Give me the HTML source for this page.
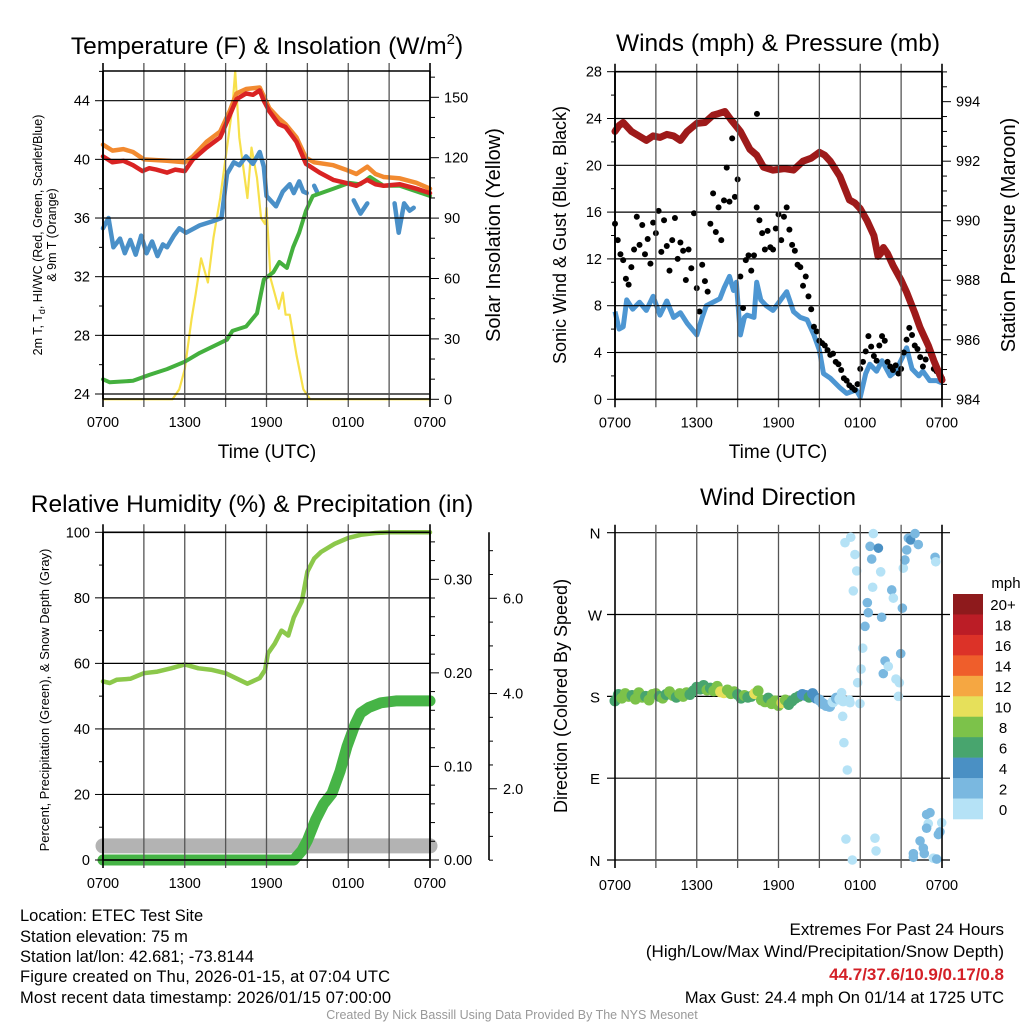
<!DOCTYPE html>
<html><head><meta charset="utf-8"><style>
body{margin:0;background:#fff;}
svg{display:block;font-family:"Liberation Sans",sans-serif;}
</style></head><body>
<svg id="c" width="1024" height="1024" viewBox="0 0 1024 1024"></svg>
<script>
// ---------- DATA ----------
const timeTicks = ["0700","1300","1900","0100","0700"];
// Temperature panel
const redT = [0,0.7,1.5,2.2,2.9,3.4,3.9,4.7,5.3,6.0,6.6,7.6,8.6,9.3,9.8,10.5,11.0,11.5,11.8,12.2,12.9,13.4,14.2,14.9,15.9,16.9,17.8,18.6,19.4,20.0,20.6,21.8,23.0,24];
const redV = [40.2,39.8,39.9,39.6,39.2,39.4,39.3,39.1,39.3,39.2,40,40.8,41.5,43,44.1,44.5,44.4,44.7,44,43.3,42.4,42.2,41.2,39.7,39.1,38.6,38.4,38.2,38.6,38.3,38.2,38.3,38.0,37.7];
const orgT = [0,0.7,1.5,2.2,3,4.7,6,6.6,7.6,8.6,9.3,9.8,10.5,11.5,11.8,12.2,12.9,13.4,14.2,14.9,15.5,16.9,17.8,18.6,19.4,20.0,20.6,21.8,23,24];
const orgV = [41,40.6,40.7,40.5,40,39.9,39.8,40.2,41.2,41.9,43.3,44.5,44.8,44.9,44.3,43.5,42.8,42.4,41.5,40.1,39.8,39.6,39.3,39.0,39.5,39.0,38.8,38.7,38.4,38.0];
const grnT = [0,0.5,2.2,3.4,4.7,6,7.1,9.1,9.5,10.5,11.3,11.8,12.5,12.95,13.5,13.95,14.4,14.9,15.4,16.9,18.1,18.9,19.6,20.6,21.8,24];
const grnV = [25,24.8,24.9,25.3,25.7,26.2,26.8,27.7,28.3,28.6,29.5,31.8,32.3,33,32.6,34,35,36.5,37.5,38,38.4,38.3,38.8,38.2,38.2,37.5];
const bluT = [0,0.4,0.76,1.25,1.6,2.0,2.4,2.8,3.2,3.6,4.0,4.4,4.7,5.2,5.6,6.1,7.1,8.1,8.7,9.1,9.6,10.0,10.5,11.0,11.5,11.8,12.0,12.7,13.2,13.7,14.0,14.4,14.7,14.95,null,15.5,15.7,null,18.4,18.9,19.4,null,21.4,21.7,22.1,22.5,22.8];
const bluV = [35.3,36,34,34.6,33.6,34.5,33.5,34.8,33.6,34.4,33.4,34.2,34,34.8,35.3,35.0,35.5,35.8,36,39,39.8,39.6,40.2,39.7,40.5,39.5,37.5,36.8,37.8,38.3,37.7,38.5,37.8,37.7,null,38.2,37.8,null,37.2,36.3,37,null,37,35,37,36.5,36.7];
const solT = [0,5.1,5.6,6.0,6.5,6.8,7.2,7.7,8.1,8.6,9.1,9.5,9.7,10.0,10.4,10.6,10.9,11.3,11.6,11.9,12.0,12.3,12.9,13.2,13.4,13.7,14.2,14.7,15.2,24];
const solV = [0,0,5,15,40,52,70,58,80,100,125,145,163,130,110,100,125,110,90,87,95,60,45,53,42,42,22,5,0,0];
// Wind panel
const presT = [0,0.3,0.6,1.2,2.3,2.8,3.3,3.8,4.3,4.8,5.3,6.0,6.6,7.2,7.6,8.07,8.5,9.2,9.9,10.4,10.9,11.6,12.4,13.1,13.8,14.4,15.0,15.4,15.8,16.5,17.2,17.6,18.0,18.5,19.0,19.3,19.5,19.7,20.0,20.4,21.0,21.4,22.0,22.4,23.0,23.4,24];
const presV = [993.0,993.2,993.3,993.0,992.7,992.85,992.8,992.9,992.85,992.7,993.0,993.27,993.3,993.55,993.6,993.67,993.4,993.0,992.4,992.2,991.8,991.7,991.75,991.7,992.0,992.1,992.3,992.2,992.0,991.5,990.7,990.6,990.4,990.0,989.5,988.8,988.9,989.1,988.9,988.5,988.0,987.6,986.9,986.4,985.8,985.3,984.65];
const windT = [0,0.3,0.6,0.86,1.3,1.8,2.3,2.8,3.3,3.8,4.3,4.8,5.3,6.0,6.4,6.7,7.2,7.7,8.0,8.4,8.7,8.9,9.2,9.5,9.7,10.2,10.4,10.7,11.1,11.6,12.1,12.6,13.1,13.6,14.1,14.6,15.0,15.3,15.8,16.5,17.0,17.7,18.0,18.4,18.7,19.2,19.6,20.2,20.6,21.1,21.4,21.8,22.3,22.6,23.1,23.6,24];
const windV = [7.5,6,6.2,8.5,7.7,8.3,7.6,8.8,7.2,8.4,7,7.4,6.5,5.5,7,8,8.3,8.6,9.5,10.5,9.3,10,5.5,7,7.2,7,10,8.5,8,7.6,8.4,9.2,7.5,7,6.8,5.5,4.2,2.2,1.8,1,0.5,0.8,0.2,2.2,3,2.4,3.3,2,2.4,3.6,4.4,2.6,2,2.4,1.6,1.6,1.4];
const gustV = [15,13.6,12.4,11.9,10.3,9.8,
11.3,12.8,15.6,13.2,14.9, 12.4,13.7,11.6,15.1,14.2, 16.1,12.6,15.3,13.1,11.0, 13.6,15.5,12.0,13.4,12.7,
10.2,12.8,11.2,15.9,9.5, 7.5,11.5,10.1,9.2,15.0, 17.6,14.3,16.4,13.6,17.0, 19.8,16.9,22.3,17.3,18.8,
10.5,7.8,11.9,12.3,11.0, 12.3,16.4,15.3,14.2,12.8, 14.4,13.0,12.8,14.6,15.8, 13.6,15.6,16.4,14.5,13.2,
12.7,11.5,11.3,9.7,10.5, 8.8,7.7,6.2,5.8,5.0, 4.8,4.6,4.2,3.8,3.9, 3.2,3.0,2.5,1.8,1.6,
1.2,1.0,0.8,1.3,2.6, 3.2,4.1,5.4,4.5,3.7, 3.3,4.6,5.4,5.0,3.2, 2.8,2.5,2.9,2.2,2.6,
4.0,5.1,6.1,5.5,4.6, 4.3,3.6,2.8,3.4,4.2, 3.8,2.6,2.4,2.1,1.8];
const gustStepHours = 0.2;
const maxGustTime = 10.42, maxGustValue = 24.4;
// RH / precip panel
const rhT = [0,0.5,1,2,3,4,5,6,7,8,9,10,10.6,11.5,11.9,12.1,12.6,13.1,13.6,14.0,14.6,15.0,15.5,16,17,18,19,20,21,24];
const rhV = [54.5,54,55,55.3,57,57.5,58.5,59.7,58.5,58,57,55,53.8,55.5,58,63,66,70,68.5,74,79,88,92,94,96.5,98.3,99.3,99.8,100,100];
const pcpT = [0,14.0,14.6,15.0,15.6,16.2,16.8,17.4,17.9,18.5,18.9,19.5,20.4,21.5,24];
const pcpV = [0,0,0.01,0.021,0.043,0.06,0.071,0.095,0.121,0.145,0.157,0.163,0.168,0.17,0.17];
const snowT = [0,24];
const snowV = [0.8,0.8];
// Wind direction panel
const dirStepHours = 0.25;
const dirV = [175,182,178,183,180,181,177,184,179,180,176,182,
183,180,178,182,185,181,179,183,180,184,182,186,
190,188,192,187,189,186,191,185,184,187,183,185,
182,178,181,179,180,183,186,176,174,178,172,175,
170,173,176,171,175,178,180,182,181,179,183,178,
176,172,170,169,174,178,177,175];
const dirS = [7.5,6.5,8.5,8.2,8.6,7.8,8.4,9,8.2,7.6,8.8,8.4,
8.3,6.8,8.6,7.5,8.9,8.4,7.2,8.6,8.8,8.1,6.5,7,
6.2,6.8,7,8.2,7.5,8.8,9.2,10.5,10.8,9.6,9.2,8.5,
6.5,7,8.6,6.8,7.4,10.4,9.3,8.5,8.8,7.6,8.3,9.1,
8.6,10.5,9.2,7.5,6.8,7.2,6.5,4.8,5.5,6.2,5,4.5,
3.5,3,2.5,3.2,1.5,2.5,1.8,1.2];
const lateT = [16.88,17.30,17.61,17.74,17.49,16.63,16.71,16.80,17.05,16.95,17.42,17.25,17.20,17.81,18.06,18.18,18.35,18.52,18.59,18.72,18.84,18.96,18.91,19.33,19.50,19.57,19.69,19.82,20.06,20.31,20.43,20.62,20.87,20.80,20.97,21.09,21.16,21.28,21.41,21.53,21.70,22.02,22.26,19.08,19.16,21.90,21.90,22.39,22.63,22.70,22.87,23.12,22.99,22.87,23.36,23.61,23.73,23.85,23.98,23.49,23.54,17.98];
const lateD = [349,355,336,318,296,184,158,129,99,23,0,173,176,195,210,233,257,283,272,345,331,359,300,343,317,267,205,219,213,297,288,199,195,180,227,277,321,330,341,354,352,359,347,24,10,7,3,21,13,7,50,52,40,35,2,1,28,31,41,333,328,172];
const lateS = [1,1,1,1,1,1,1,1,1,1,1,1,1,1,1,1,3,3,3,3,3,1,1,5,1,3,3,3,1,3,1,1,1,1,3,3,1,3,3,3,5,3,3,1,1,3,3,3,3,3,3,3,1,3,1,3,3,3,1,3,1,1];
const cbLabels = ["20+","18","16","14","12","10","8","6","4","2","0"];
const cbColors = ["#8e1a1c","#bb1d26","#dc3228","#ef5e2b","#f5a742","#e6e05a","#7cc24a","#48a56e","#4a90c4","#7ab8e0","#b5e2f6"];

// ---------- DRAW ----------
const svg = document.getElementById('c');
const NS = 'http://www.w3.org/2000/svg';
function el(tag, attrs, parent, text){
  const e = document.createElementNS(NS, tag);
  for (const k in attrs) e.setAttribute(k, attrs[k]);
  if (text !== undefined) e.textContent = text;
  (parent || svg).appendChild(e);
  return e;
}
function lin(d0,d1,r0,r1){ return v => r0 + (v-d0)/(d1-d0)*(r1-r0); }
function pathFrom(ts, vs, sx, sy){
  let d = '', pen = false;
  for (let i=0;i<ts.length;i++){
    if (ts[i]===null || vs[i]===null){ pen=false; continue; }
    d += (pen?'L':'M') + sx(ts[i]).toFixed(1) + ',' + sy(vs[i]).toFixed(1);
    pen = true;
  }
  return d;
}
function text(x,y,s,size,opts,parent){
  opts = opts||{};
  const t = el('text', Object.assign({x:x,y:y,'font-size':size,'text-anchor':opts.anchor||'middle',fill:opts.fill||'#000'}, opts.extra||{}), parent, s);
  return t;
}
function panelFrame(g, X0, X1, Y0, Y1, sx){
  for (let h=0; h<=24; h+=3){
    const x = sx(h);
    const v = el('line',{x1:x,x2:x,y1:Y0-8,y2:Y1+8,stroke:(h%24===0)?'#000':'#555','stroke-width':(h%24===0)?1.6:1.3},g);
    
    
  }
  for (let i=0;i<timeTicks.length;i++){
    const t = text(sx(i*6), Y1+28, timeTicks[i], 14.5, {}, g);
    
    
  }
  el('line',{x1:X0,x2:X1,y1:Y0,y2:Y0,stroke:'#000','stroke-width':1.6},g);
  el('line',{x1:X0,x2:X1,y1:Y1,y2:Y1,stroke:'#000','stroke-width':1.6},g);
}
function leftAxis(g, X0, X1, sy, vmin, vmax, major, minor){
  for (let v=vmin; v<=vmax+1e-9; v+=minor){
    const isMaj = Math.abs(v/major - Math.round(v/major))<1e-6;
    const y = sy(v);
    el('line',{x1:X0-(isMaj?8:4),x2:X0,y1:y,y2:y,stroke:'#000','stroke-width':1},g);
  }
}
function rightAxis(g, X, sy, vmin, vmax, major, minor, fmt, name){
  for (let v=vmin; v<=vmax+1e-9; v+=minor){
    const isMaj = Math.abs(v/major - Math.round(v/major))<1e-6;
    const y = sy(v);
    el('line',{x1:X,x2:X+(isMaj?9:5),y1:y,y2:y,stroke:'#000','stroke-width':1},g);
    if (isMaj){
      const t = text(X+14, y+5, fmt(v), 14.5, {anchor:'start'}, g);
      
      
    }
  }
}

// ===== Panel 1: Temperature =====
(function(){
  const g = el('g',{});
  
  
  const X0=103,X1=430,Y0=71,Y1=399;
  const sx = lin(0,24,X0,X1);
  const sy = lin(24,44,394,100.7);
  const ss = lin(0,150,399.3,97.3);
  const tl = text(267,54,'Temperature (F) & Insolation (W/m',24.5,{},g);
  el('tspan',{'font-size':15,dy:-10},tl,'2');
  el('tspan',{dy:10},tl,')');
  
  
  const series = [
    [solT,solV,ss,'#f7e04b',2.2,'solar-insolation-line'],
    [bluT,bluV,sy,'#4a90c8',4.5,'heat-index-windchill-line'],
    [grnT,grnV,sy,'#44b03e',4,'dewpoint-line'],
    [orgT,orgV,sy,'#f28a30',4.5,'temp-9m-line'],
    [redT,redV,sy,'#d92323',4.5,'temp-2m-line']];
  for (const s of series){
    const p = el('path',{d:pathFrom(s[0],s[1],sx,s[2]),fill:'none',stroke:s[3],'stroke-width':s[4],'stroke-linejoin':'round','stroke-linecap':'round'},g);
    
    
  }
  for (let v=24; v<=44; v+=4){
    el('line',{x1:X0,x2:X1,y1:sy(v),y2:sy(v),stroke:'#000','stroke-width':1.2},g);
    const t = text(X0-13, sy(v)+5, String(v), 14.5, {anchor:'end'}, g);
    
    
  }
  leftAxis(g,X0,X1,sy,24,46,4,2);
  panelFrame(g,X0,X1,Y0,Y1,sx);
  el('line',{x1:X0,x2:X0,y1:Y0,y2:Y1,stroke:'#000','stroke-width':1.8},g);
  el('line',{x1:X1,x2:X1,y1:Y0,y2:Y1,stroke:'#000','stroke-width':1.6},g);
  rightAxis(g,X1,ss,0,160,30,10,v=>String(v),'solar-y-tick');
  const xl = text(267,458,'Time (UTC)',19,{},g);
  
  
  const yl = el('text',{transform:'translate(42,235) rotate(-90)','font-size':12.5,'text-anchor':'middle'},g);
  
  
  el('tspan',{x:0,dy:0},yl,'2m T, T');
  el('tspan',{'font-size':9,dy:3},yl,'d');
  el('tspan',{dy:-3},yl,', HI/WC (Red, Green, Scarlet/Blue)');
  el('tspan',{x:0,dy:14},yl,'& 9m T (Orange)');
  const yr = text(0,0,'Solar Insolation (Yellow)',20,{extra:{transform:'translate(500,235) rotate(-90)'}},g);
  
  
})();

// ===== Panel 2: Winds =====
(function(){
  const g = el('g',{});
  
  
  const X0=615,X1=942,Y0=71.7,Y1=399.3;
  const sx = lin(0,24,X0,X1);
  const sy = lin(0,28,399.3,71.7);
  const sp = lin(984,995,399.3,71.9);
  const tl = text(778,51,'Winds (mph) & Pressure (mb)',24.5,{},g);
  
  
  const wl = el('path',{d:pathFrom(windT,windV,sx,sy),fill:'none',stroke:'#4d96d2','stroke-width':5,'stroke-linejoin':'round'},g);
  
  
  for (let i=0;i<gustV.length;i++){
    const c = el('circle',{cx:sx(i*gustStepHours),cy:sy(gustV[i]),r:3,fill:'#000'},g);
    
    
  }
  const mg = el('circle',{cx:sx(maxGustTime),cy:sy(maxGustValue),r:3,fill:'#000'},g);
  
  
  const pl = el('path',{d:pathFrom(presT,presV,sx,sp),fill:'none',stroke:'#9e1a1a','stroke-width':7,'stroke-linejoin':'round','stroke-linecap':'round'},g);
  
  
  for (let v=0; v<=28; v+=4){
    el('line',{x1:X0,x2:X1,y1:sy(v),y2:sy(v),stroke:'#000','stroke-width':1.2},g);
    const t = text(X0-13, sy(v)+5, String(v), 14.5, {anchor:'end'}, g);
    
    
  }
  leftAxis(g,X0,X1,sy,0,28,4,2);
  panelFrame(g,X0,X1,Y0,Y1,sx);
  el('line',{x1:X0,x2:X0,y1:Y0,y2:Y1,stroke:'#000','stroke-width':1.8},g);
  el('line',{x1:X1,x2:X1,y1:Y0,y2:Y1,stroke:'#000','stroke-width':1.6},g);
  rightAxis(g,X1,sp,984,995,2,0.5,v=>String(v),'pressure-y-tick');
  const xl = text(778,458,'Time (UTC)',19,{},g);
  
  
  const yl = text(0,0,'Sonic Wind & Gust (Blue, Black)',18,{extra:{transform:'translate(566,235) rotate(-90)'}},g);
  
  
  const yr = text(0,0,'Station Pressure (Maroon)',20,{extra:{transform:'translate(1015,235) rotate(-90)'}},g);
  
  
})();

// ===== Panel 3: RH & precip =====
(function(){
  const g = el('g',{});
  
  
  const X0=103,X1=430,Y0=532.3,Y1=860;
  const sx = lin(0,24,X0,X1);
  const sy = lin(0,100,860,532.3);
  const sr = lin(0,0.3,860,579.3);
  const sd = lin(0,6,884,598.3);
  const tl = text(252,512,'Relative Humidity (%) & Precipitation (in)',24.5,{},g);
  
  
  const sn = el('path',{d:pathFrom(snowT,snowV,sx,sd),fill:'none',stroke:'#b3b3b3','stroke-width':15,'stroke-linecap':'round'},g);
  
  
  const pc = el('path',{d:pathFrom(pcpT,pcpV,sx,sr),fill:'none',stroke:'#46b446','stroke-width':11,'stroke-linejoin':'round','stroke-linecap':'round'},g);
  
  
  const rh = el('path',{d:pathFrom(rhT,rhV,sx,sy),fill:'none',stroke:'#8cc84b','stroke-width':4.5,'stroke-linejoin':'round','stroke-linecap':'round'},g);
  
  
  for (let v=0; v<=100; v+=20){
    el('line',{x1:X0,x2:X1,y1:sy(v),y2:sy(v),stroke:'#000','stroke-width':1.2},g);
    const t = text(X0-13, sy(v)+5, String(v), 14.5, {anchor:'end'}, g);
    
    
  }
  leftAxis(g,X0,X1,sy,0,100,20,10);
  panelFrame(g,X0,X1,Y0,Y1,sx);
  el('line',{x1:X0,x2:X0,y1:Y0,y2:Y1,stroke:'#000','stroke-width':1.8},g);
  el('line',{x1:X1,x2:X1,y1:Y0,y2:Y1,stroke:'#000','stroke-width':1.6},g);
  rightAxis(g,X1,sr,0,0.34,0.1,0.02,v=>v.toFixed(2),'precip-y-tick');
  el('line',{x1:489,x2:489,y1:Y0,y2:Y1,stroke:'#000','stroke-width':1.6},g);
  for (let v=0.5; v<=7.3; v+=0.5){
    const isMaj = Math.abs(v/2-Math.round(v/2))<1e-6;
    el('line',{x1:489,x2:489+(isMaj?8:4),y1:sd(v),y2:sd(v),stroke:'#000','stroke-width':1},g);
    if (isMaj){
      const t = text(503, sd(v)+5, v.toFixed(1), 14.5, {anchor:'start'}, g);
      
      
    }
  }
  const yl = text(0,0,'Percent, Precipitation (Green), & Snow Depth (Gray)',13,{extra:{transform:'translate(49,700) rotate(-90)'}},g);
  
  
})();

// ===== Panel 4: Wind direction =====
(function(){
  const g = el('g',{});
  
  
  const X0=615,X1=942,Y0=532.7,Y1=860;
  const sx = lin(0,24,X0,X1);
  const sy = lin(0,360,860,532.7);
  const tl = text(778,505,'Wind Direction',24,{},g);
  
  
  function col(s){ let i = Math.min(10, Math.floor(s/2)); return cbColors[10-i]; }
  const dlab = ['N','E','S','W','N'];
  for (let i=0;i<5;i++){
    const v=i*90;
    el('line',{x1:X0-8,x2:X1+8,y1:sy(v),y2:sy(v),stroke:'#000','stroke-width':1.2},g);
    const t = text(X0-20, sy(v)+6, dlab[i], 15, {}, g);
    
    
  }
  for (let i=0;i<dirV.length;i++){
    const c = el('circle',{cx:sx(i*dirStepHours),cy:sy(dirV[i]),r:5.5,fill:col(dirS[i])},g);
    
    
  }
  for (let i=0;i<lateT.length;i++){
    const c = el('circle',{cx:sx(lateT[i]),cy:sy(lateD[i]),r:4.8,fill:col(lateS[i])},g);
    
    
  }
  for (let h=0; h<=24; h+=3){
    const x = sx(h);
    el('line',{x1:x,x2:x,y1:Y0-8,y2:Y1+8,stroke:(h%24===0)?'#000':'#555','stroke-width':(h%24===0)?1.6:1.3},g);
  }
  for (let i=0;i<timeTicks.length;i++){
    const t = text(sx(i*6), Y1+30, timeTicks[i], 14.5, {}, g);
    
    
  }
  const yl = text(0,0,'Direction (Colored By Speed)',18,{extra:{transform:'translate(567,696) rotate(-90)'}},g);
  
  
  const cb = el('g',{},g);
  
  
  const top=594, bh=(819-594)/11;
  for (let i=0;i<11;i++){
    el('rect',{x:953,y:top+i*bh,width:30,height:bh+0.3,fill:cbColors[i]},cb);
    const t = text(1003, top+i*bh+bh/2+6, cbLabels[i], 15, {}, cb);
    
    
  }
  const u = text(1006, 588, 'mph', 15, {}, cb);
  
  
})();

// ===== Footer =====
(function(){
  const g = el('g',{});
  
  
  const left = ['Location: ETEC Test Site','Station elevation: 75 m','Station lat/lon: 42.681; -73.8144','Figure created on Thu, 2026-01-15, at 07:04 UTC','Most recent data timestamp: 2026/01/15 07:00:00'];
  const ly = [921,942,962,982,1003];
  for (let i=0;i<left.length;i++){
    const t = text(20, ly[i], left[i], 16.5, {anchor:'start',extra:{textLength:(i===3?370:i===4?371:null)}}, g);
    if (i<3) t.removeAttribute('textLength');
    
    
  }
  const r1 = text(1004, 935, 'Extremes For Past 24 Hours', 17, {anchor:'end'}, g);
  
  
  const r2 = text(1004, 957, '(High/Low/Max Wind/Precipitation/Snow Depth)', 17, {anchor:'end'}, g);
  
  
  const r3 = text(1004, 980, '44.7/37.6/10.9/0.17/0.8', 17, {anchor:'end',fill:'#d42027',extra:{'font-weight':'bold'}}, g);
  
  
  const r4 = text(1004, 1003, 'Max Gust: 24.4 mph On 01/14 at 1725 UTC', 16.5, {anchor:'end'}, g);
  
  
  const cr = text(512, 1019, 'Created By Nick Bassill Using Data Provided By The NYS Mesonet', 12.5, {fill:'#999'}, g);
  
  
})();
</script>
</body></html>
